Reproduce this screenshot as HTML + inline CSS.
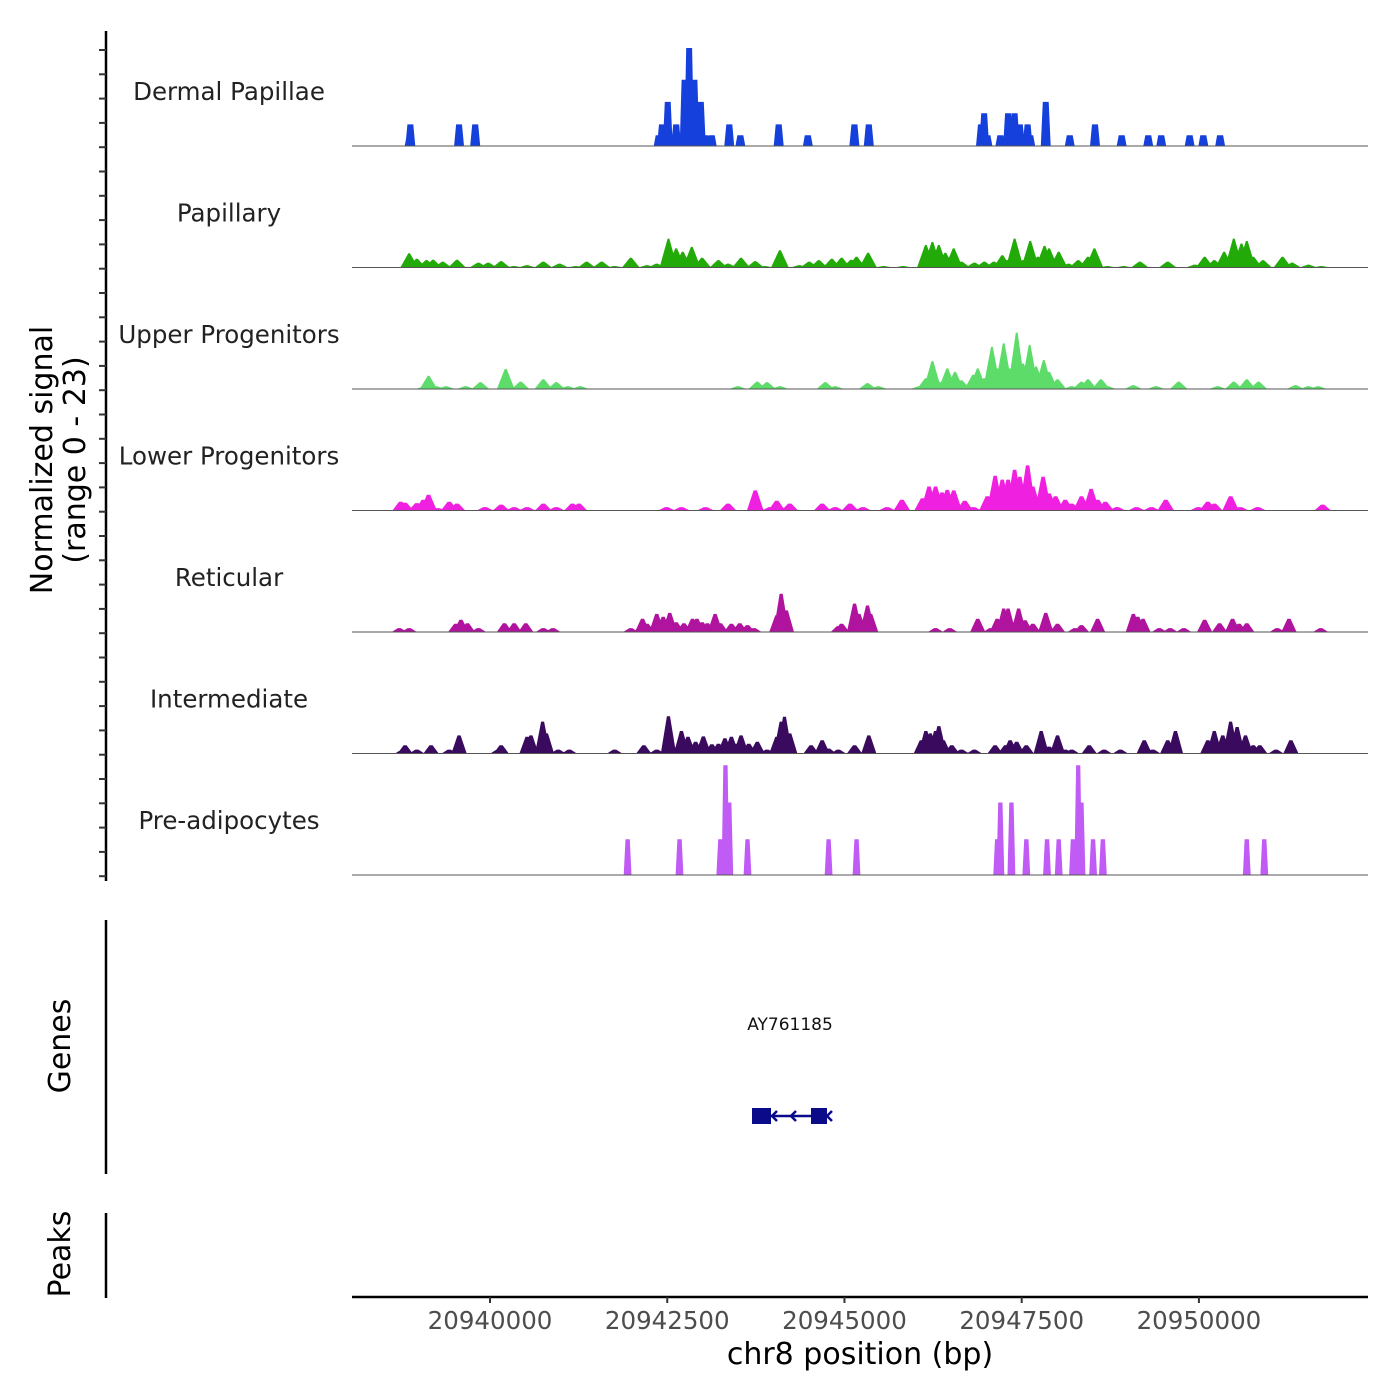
<!DOCTYPE html>
<html><head><meta charset="utf-8">
<style>
html,body{margin:0;padding:0;background:#fff;}
svg{display:block;font-family:"DejaVu Sans","Liberation Sans",sans-serif;}
</style></head>
<body>
<svg id="chart" width="1400" height="1400" viewBox="0 0 1400 1400">
<g id="tracks"></g>
<g id="yaxis"></g>
<text transform="translate(52,460) rotate(-90)" text-anchor="middle" font-size="30" fill="#000">Normalized signal</text>
<text transform="translate(85,460) rotate(-90)" text-anchor="middle" font-size="30" fill="#000">(range 0 - 23)</text>
<line x1="106" y1="920" x2="106" y2="1174" stroke="#000" stroke-width="2.5"/>
<text transform="translate(70,1046) rotate(-90)" text-anchor="middle" font-size="30">Genes</text>
<line x1="106" y1="1213" x2="106" y2="1298" stroke="#000" stroke-width="2.5"/>
<text transform="translate(70,1254) rotate(-90)" text-anchor="middle" font-size="30">Peaks</text>
<g>
<text x="790" y="1030" text-anchor="middle" font-size="17" fill="#111">AY761185</text>
<line x1="760" y1="1116" x2="826" y2="1116" stroke="#0b0b8a" stroke-width="2.5"/>
<rect x="752" y="1108" width="19" height="16" fill="#0b0b8a"/>
<rect x="811" y="1108" width="16" height="16" fill="#0b0b8a"/>
<path d="M777 1111 L772 1116 L777 1121 M796 1111 L791 1116 L796 1121 M832 1111 L827 1116 L832 1121" stroke="#0b0b8a" stroke-width="2.5" fill="none"/>
</g>
<g id="xaxis"></g>
<text x="860" y="1364" text-anchor="middle" font-size="30">chr8 position (bp)</text>
</svg>
<script>
const REGION_START = 20938053;
const REGION_END = 20952385;
const trackNames = ["Dermal Papillae","Papillary","Upper Progenitors","Lower Progenitors","Reticular","Intermediate","Pre-adipocytes"];
const trackColors = ["#1640dc","#22aa08","#5ddc6a","#f020e0","#b0149e","#3a0a5e","#c05cf5"];
const xTicks = [20940000,20942500,20945000,20947500,20950000];
const xTickLabels = ["20940000","20942500","20945000","20947500","20950000"];

const dpPos = [813,823,1510,1738,4326,4373,4454,4573,4692,4756,4830,4921,4984,5075,5322,5478,6019,6430,7087,7290,8872,8917,8963,9146,9255,9347,9421,9530,9567,9786,10125,10481,10857,11232,11415,11816,12009,12246];
const dpVal = [2.2,4.4,4.4,4.4,2.2,4.4,9,4.4,13.5,20,13.5,9,2.2,2.2,4.4,2.2,4.4,2.2,4.4,4.4,4.4,6.7,2.2,2.2,6.7,6.7,4.4,4.4,2.2,9,2.2,4.4,2.2,2.2,2.2,2.2,2.2,2.2];

const paPos = [806,915,1051,1144,1280,1481,1784,1921,2104,2287,2469,2699,2927,3156,3310,3522,3705,3933,4162,4299,4464,4573,4665,4793,4939,5169,5305,5488,5688,5826,6036,6311,6449,6585,6768,6906,7043,7117,7280,7500,7774,8095,8187,8278,8370,8488,8597,8780,8919,9055,9173,9238,9347,9467,9567,9677,9769,9833,9969,10108,10244,10382,10473,10656,10884,11114,11507,11890,12028,12164,12303,12439,12548,12622,12713,12851,13126,13262,13492,13675];
const paVal = [2.9,1.8,1.5,1.6,1.2,1.6,1.0,1.0,1.3,0.3,0.5,1.2,0.8,0.3,1.2,1.2,0.3,2.0,0.5,0.8,5.9,3.9,3.2,4.2,2.0,1.5,0.8,2.0,1.3,0.3,3.5,0.5,1.2,1.5,1.8,2.0,1.6,2.2,3.0,0.3,0.3,4.6,5.2,4.6,3.0,3.9,1.2,1.0,1.2,1.2,2.5,1.5,5.9,1.5,5.4,2.2,4.4,3.9,3.2,0.8,1.5,2.2,3.9,0.3,0.3,1.2,1.2,0.6,2.2,1.5,3.2,5.9,4.9,5.4,2.2,1.5,2.2,1.0,0.6,0.3];

const upPos = [1024,1080,1189,1327,1602,1812,2168,2378,2699,2882,3045,3219,5443,5717,5854,6036,6677,6815,7272,7426,8004,8095,8187,8278,8397,8506,8597,8763,8827,8919,9027,9101,9193,9284,9376,9467,9559,9650,9759,9833,9952,10152,10290,10382,10565,10656,11022,11341,11662,12211,12439,12622,12787,13309,13492,13628];
const upVal = [0.6,2.7,0.6,0.6,0.6,1.4,4.1,1.5,2.0,1.4,0.6,0.6,0.6,1.5,1.4,0.6,1.4,0.6,1.2,0.6,0.6,2.2,5.7,1.5,4.2,3.5,1.8,2.9,4.2,2.2,8.6,4.2,9.3,4.2,11.5,5.2,9.0,4.6,5.9,3.5,2.0,0.6,1.5,2.0,2.0,0.6,0.8,0.6,1.5,0.6,1.5,2.0,1.5,0.8,0.6,0.6];

const loPos = [687,749,915,1006,1080,1207,1372,1481,1876,2104,2287,2469,2699,2882,3110,3201,4437,4647,4986,5305,5688,5900,5992,6175,6632,6815,7025,7208,7547,7757,8049,8140,8232,8323,8397,8488,8644,8763,8963,9072,9173,9255,9347,9421,9530,9604,9749,9833,9925,10061,10152,10290,10427,10518,10627,10793,11067,11277,11479,11937,12073,12164,12394,12530,12777,13692];
const loVal = [1.8,1.6,1.5,2.2,3.2,0.5,1.8,1.4,0.7,1.2,0.7,0.7,1.4,0.7,1.4,1.4,0.7,0.7,0.7,1.4,4.1,0.7,2.0,1.4,1.4,0.7,1.4,0.7,0.7,2.2,2.5,4.9,4.9,3.7,4.2,4.1,2.0,0.7,2.9,7.1,6.3,6.3,8.3,6.9,9.2,4.9,6.9,3.5,2.9,2.2,1.4,2.9,4.4,2.2,1.8,0.7,0.7,0.7,2.2,0.7,1.8,1.4,2.9,0.7,0.7,1.2];

const rePos = [667,806,1463,1537,1629,1784,2150,2287,2452,2699,2835,3933,4098,4162,4299,4390,4482,4573,4682,4803,4865,4939,5013,5122,5196,5352,5470,5579,5671,5992,6054,6128,6860,6906,7089,7152,7272,7317,8232,8432,8827,9010,9101,9193,9255,9329,9403,9495,9604,9786,9952,10199,10290,10518,11022,11084,11158,11388,11542,11734,12028,12238,12421,12513,12622,13052,13217,13665];
const reVal = [0.8,0.8,1.7,2.5,1.8,0.8,1.8,1.8,1.8,0.8,0.8,0.8,2.7,1.7,3.7,3.1,3.9,2.0,1.8,2.7,2.7,2.0,1.8,3.7,1.8,1.7,1.8,1.4,0.8,3.4,7.8,4.4,1.2,1.7,5.8,3.7,5.4,3.7,0.8,0.8,2.7,0.8,2.7,4.8,4.8,2.0,4.8,2.4,1.7,3.9,1.7,0.8,1.4,2.7,3.7,3.1,2.7,0.8,0.8,0.8,2.5,1.8,2.7,1.7,1.8,0.8,2.7,0.8];

const inPos = [714,749,915,1115,1372,1510,2059,2104,2469,2524,2689,2744,2909,3065,3705,4116,4299,4464,4528,4647,4739,4847,4956,5077,5169,5260,5352,5414,5488,5597,5717,5854,5992,6054,6101,6175,6476,6632,6723,6860,7089,7290,8031,8095,8158,8232,8278,8341,8461,8597,8780,9072,9220,9284,9376,9512,9722,9833,9952,10061,10152,10399,10610,10839,11176,11297,11507,11616,12073,12164,12283,12394,12486,12604,12713,12805,13034,13244];
const inVal = [0.8,1.7,0.8,1.7,0.8,3.7,0.8,1.7,3.4,3.7,6.5,4.1,0.8,0.8,0.8,1.7,0.8,7.6,1.4,4.6,3.4,2.4,3.5,1.9,2.0,3.1,3.4,2.0,3.7,2.0,2.4,0.8,3.4,6.5,7.5,4.1,1.7,2.7,1.0,0.8,1.7,3.7,2.7,4.6,4.1,4.6,5.6,2.7,1.7,0.8,0.8,1.7,1.7,2.7,2.4,1.7,4.6,1.4,3.7,0.8,0.8,1.7,0.8,0.8,2.7,0.8,2.7,4.6,2.7,4.6,3.7,6.5,5.4,3.7,1.7,1.7,0.8,2.7];

const prPos = [3888,4620,5196,5268,5322,5579,6723,7117,9101,9146,9302,9512,9804,9969,10170,10244,10290,10454,10592,12622,12869];
const prVal = [7.3,7.3,7.3,22.4,14.8,7.3,7.3,7.3,7.3,14.8,14.8,7.3,7.3,7.3,7.3,22.4,14.8,7.3,7.3,7.3,7.3];

const trackPos = [dpPos,paPos,upPos,loPos,rePos,inPos,prPos];
const trackVal = [dpVal,paVal,upVal,loVal,reVal,inVal,prVal];
const trackWidthBp = [140,250,250,235,215,215,110];
const trackTopRatio = [0.6,0.1,0.1,0.2,0.2,0.2,0.55];

const NS = "http://www.w3.org/2000/svg";
const X0 = 352, X1 = 1368;
function xScale(bp){ return X0 + (bp - REGION_START) / (REGION_END - REGION_START) * (X1 - X0); }
function offScale(off){ return xScale(REGION_START + off); }
const TRACK_FIRST_BASE = 146, TRACK_STEP = 121.5, PX_PER_UNIT = 4.9;
function baseY(i){ return TRACK_FIRST_BASE + i * TRACK_STEP; }
function yScale(i, v){ return baseY(i) - v * PX_PER_UNIT; }

const gTracks = document.getElementById("tracks");
trackNames.forEach((name, i) => {
  const g = document.createElementNS(NS, "g");
  
  
  gTracks.appendChild(g);
  const lbl = document.createElementNS(NS, "text");
  
  
  lbl.setAttribute("x", 229); lbl.setAttribute("y", baseY(i) - 46);
  lbl.setAttribute("text-anchor", "middle"); lbl.setAttribute("font-size", "24.5"); lbl.setAttribute("fill", "#222");
  lbl.textContent = name;
  g.appendChild(lbl);
  let d = "";
  const pos = trackPos[i], val = trackVal[i], w = trackWidthBp[i], tr = trackTopRatio[i];
  const b = baseY(i);
  for (let k = 0; k < pos.length; k++) {
    const xl = offScale(pos[k] - w / 2), xr = offScale(pos[k] + w / 2);
    const tl = offScale(pos[k] - w * tr / 2), trr = offScale(pos[k] + w * tr / 2);
    const yt = yScale(i, val[k]);
    d += "M" + xl.toFixed(1) + " " + b + "L" + tl.toFixed(1) + " " + yt.toFixed(1) + "L" + trr.toFixed(1) + " " + yt.toFixed(1) + "L" + xr.toFixed(1) + " " + b + "Z";
  }
  const p = document.createElementNS(NS, "path");
  
  
  p.setAttribute("d", d); p.setAttribute("fill", trackColors[i]);
  g.appendChild(p);
  const ln = document.createElementNS(NS, "line");
  
  
  ln.setAttribute("x1", X0); ln.setAttribute("x2", X1); ln.setAttribute("y1", b); ln.setAttribute("y2", b);
  ln.setAttribute("stroke", "#555"); ln.setAttribute("stroke-width", "1");
  g.appendChild(ln);
});

const gy = document.getElementById("yaxis");
const yl = document.createElementNS(NS, "line");


yl.setAttribute("x1", 106); yl.setAttribute("x2", 106); yl.setAttribute("y1", 31); yl.setAttribute("y2", 881);
yl.setAttribute("stroke", "#000"); yl.setAttribute("stroke-width", "2.5");
gy.appendChild(yl);
for (let t = 0; t < 35; t++) {
  const y = 50 + t * TRACK_STEP / 5;
  const tk = document.createElementNS(NS, "line");
  
  
  tk.setAttribute("x1", 99); tk.setAttribute("x2", 106); tk.setAttribute("y1", y); tk.setAttribute("y2", y);
  tk.setAttribute("stroke", "#333"); tk.setAttribute("stroke-width", "2");
  gy.appendChild(tk);
}

const gx = document.getElementById("xaxis");
const xl = document.createElementNS(NS, "line");


xl.setAttribute("x1", X0); xl.setAttribute("x2", X1); xl.setAttribute("y1", 1297); xl.setAttribute("y2", 1297);
xl.setAttribute("stroke", "#000"); xl.setAttribute("stroke-width", "2.5");
gx.appendChild(xl);
xTicks.forEach((v, i) => {
  const x = xScale(v);
  const tk = document.createElementNS(NS, "line");
  
  
  tk.setAttribute("x1", x); tk.setAttribute("x2", x); tk.setAttribute("y1", 1297); tk.setAttribute("y2", 1303);
  tk.setAttribute("stroke", "#333"); tk.setAttribute("stroke-width", "2");
  gx.appendChild(tk);
  const lb = document.createElementNS(NS, "text");
  
  
  lb.setAttribute("x", x); lb.setAttribute("y", 1329);
  lb.setAttribute("text-anchor", "middle"); lb.setAttribute("font-size", "24.5"); lb.setAttribute("fill", "#4d4d4d");
  lb.textContent = xTickLabels[i];
  gx.appendChild(lb);
});
</script>
</body></html>
